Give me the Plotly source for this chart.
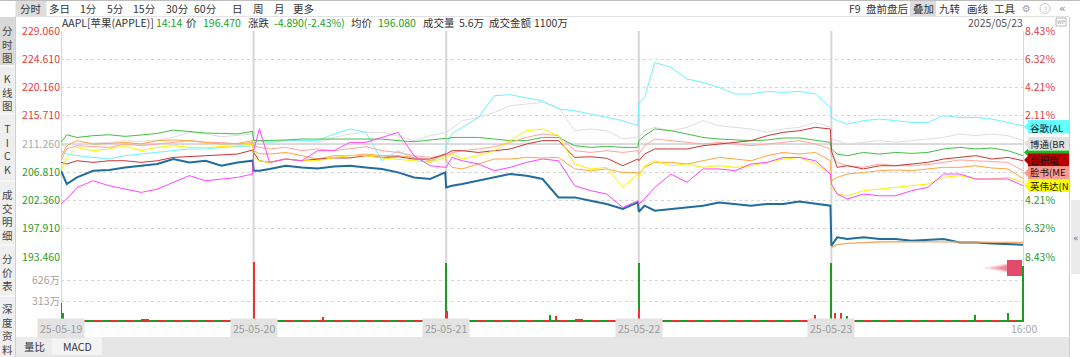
import plotly.graph_objects as go

FONT = "Noto Sans CJK SC"

# ---------------- data ----------------
day_labels = ["25-05-19", "25-05-20", "25-05-21", "25-05-22", "25-05-23"]
end_label = "16:00"
# sample positions inside each trading day (fraction of the day)
day_offsets = [0, 0.03, 0.083, 0.167, 0.25, 0.333, 0.417, 0.5, 0.583, 0.667, 0.75, 0.833, 0.917, 0.995]

prev_close = 211.26
price_ticks = [229.06, 224.61, 220.16, 215.71, 211.26, 206.81, 202.36, 197.91, 193.46]
volume_ticks = [313, 626]          # 万

# AAPL price (5 days x 14 samples)
aapl_price = [
    207.05, 204.96, 206.00, 207.05, 207.16, 207.57, 207.84, 208.11, 208.90, 208.36, 208.63, 207.84, 208.36, 208.63,
    207.05, 207.05, 207.32, 207.84, 207.57, 207.42, 207.73, 207.84, 207.57, 207.32, 206.79, 206.00, 205.75, 206.79,
    204.42, 204.69, 204.96, 205.48, 206.00, 206.53, 206.27, 205.75, 202.85, 202.85, 202.33, 201.81, 201.02, 202.06,
    200.59, 201.54, 200.75, 201.02, 201.27, 201.54, 202.06, 201.81, 201.54, 201.81, 201.81, 202.22, 201.81, 201.54,
    195.24, 196.55, 196.29, 196.55, 196.29, 196.29, 196.03, 196.14, 196.29, 195.76, 195.76, 195.60, 195.51, 195.40,
]
# AAPL average price, current day only
aapl_avg_today = [194.97, 195.40, 195.60, 195.76, 195.82, 195.87, 195.87, 195.87, 195.87, 195.87, 195.87, 195.82, 195.82, 195.76]

# overlaid comparison stocks, % change
pct_google = [
    -0.50, -0.75, -0.87, -1.00, -1.12, -0.87, -0.75, -0.63, -0.50, -0.37, -0.37, -0.25, -0.20, -0.13,
    0.02, 0.25, 0.12, 0.25, 0.25, 0.25, 0.75, 1.12, 0.87, -1.25, -0.50, -1.12, -1.37, -0.75,
    -0.13, 0.77, 1.24, 1.98, 3.60, 3.68, 3.43, 3.23, 2.61, 2.48, 2.24, 1.98, 1.74, 1.36,
    2.98, 3.47, 6.08, 5.71, 4.85, 4.59, 4.22, 3.73, 3.73, 3.92, 3.85, 3.92, 3.73, 2.73,
    1.98, 1.74, 1.49, 1.74, 1.86, 1.74, 1.61, 1.61, 2.11, 1.98, 1.98, 1.86, 1.61, 1.36,
]
pct_broadcom = [
    -0.13, -0.05, 0.00, 0.04, 0.12, 0.25, 0.19, 0.30, 0.49, 0.87, 0.75, 0.54, 0.62, 0.75,
    0.12, 0.02, 0.12, 0.25, 0.25, 0.12, 0.49, 0.75, 0.87, 0.87, 0.62, 0.25, 0.62, 0.87,
    0.87, 1.14, 1.74, 1.98, 2.36, 2.86, 2.98, 3.10, 2.73, 0.99, 1.12, 0.99, 0.40, 0.49,
    0.49, 0.99, 1.24, 0.99, 1.24, 1.74, 1.36, 1.24, 1.12, 0.87, 1.12, 1.24, 1.61, 1.24,
    0.37, 0.25, 0.00, 0.12, 0.25, 0.12, 0.25, 0.37, 0.49, 0.75, 0.62, 0.75, 0.62, 0.25,
]
pct_green = [
    0.12, 0.69, 0.49, 0.62, 0.69, 0.57, 0.67, 0.79, 1.04, 0.94, 0.82, 0.79, 0.75, 0.94,
    0.25, 0.25, 0.25, 0.30, 0.37, 0.37, 0.37, 0.37, 0.42, 0.37, 0.25, 0.17, 0.30, 0.42,
    0.37, 0.49, 0.49, 0.49, 0.37, 0.25, 0.25, 0.49, 0.49, -0.13, -0.25, -0.18, -0.25, -0.25,
    0.25, 0.62, 1.12, 0.99, 0.75, 0.49, 0.37, 0.30, 0.25, 0.30, 0.45, 0.45, 0.30, 0.12,
    -0.37, -0.75, -0.87, -0.63, -0.75, -0.63, -0.70, -0.63, -0.37, -0.25, -0.37, -0.30, -0.50, -0.87,
]
pct_tsmc = [
    -1.37, -1.49, -1.25, -1.37, -1.25, -1.25, -1.37, -1.25, -1.00, -0.95, -0.87, -0.82, -0.75, -0.45,
    -0.63, -1.25, -1.37, -1.12, -1.25, -1.12, -1.04, -1.04, -0.87, -1.00, -0.95, -1.12, -1.12, -0.75,
    -0.75, -0.50, -0.50, -0.63, -0.50, -0.37, 0.00, 0.25, 0.25, -1.00, -0.95, -1.06, -1.62, -1.12,
    -1.25, -0.75, -0.37, -0.37, -0.37, -0.13, 0.00, 0.12, 0.25, 0.62, 0.87, 0.99, 1.24, 1.12,
    -0.50, -1.74, -1.62, -1.86, -1.62, -1.62, -1.49, -1.37, -1.12, -1.00, -0.87, -1.12, -1.00, -1.25,
]
pct_meta = [
    -1.25, -0.35, -0.13, -0.20, -0.25, 0.00, -0.13, 0.00, 0.12, 0.25, 0.12, 0.12, 0.00, 0.12,
    -0.13, -0.25, -0.37, -0.25, -0.50, -0.37, -0.50, -0.37, -0.20, -0.50, -0.63, -0.87, -1.00, -0.87,
    -0.87, -0.65, -0.50, -0.37, -0.20, 0.12, 0.49, 0.75, 0.62, -0.50, -0.63, -0.50, -0.63, -0.50,
    -0.75, -0.13, 0.37, 0.25, 0.12, 0.00, 0.12, 0.00, -0.13, 0.00, 0.12, 0.25, 0.00, -0.37,
    -0.87, -1.37, -1.62, -1.74, -1.49, -1.62, -1.62, -1.54, -1.37, -1.19, -1.25, -1.30, -1.37, -1.99,
]
pct_orange = [
    -1.00, -0.13, 0.25, 0.00, 0.04, 0.12, 0.00, 0.25, 0.30, 0.25, 0.12, 0.00, 0.04, 0.25,
    -0.50, -0.72, -0.75, -0.63, -0.87, -1.12, -0.87, -0.87, -0.75, -0.87, -0.87, -1.00, -1.25, -0.75,
    -1.25, -1.74, -1.86, -1.49, -1.12, -1.12, -1.00, -1.04, -1.00, -1.86, -1.99, -1.86, -2.14, -2.12,
    -2.24, -1.74, -1.37, -1.37, -1.49, -1.25, -1.00, -1.12, -1.25, -0.87, -0.63, -0.75, -0.63, -1.25,
    -2.74, -2.49, -2.24, -2.12, -1.99, -1.94, -1.99, -1.86, -1.74, -1.74, -1.62, -1.79, -1.86, -2.59,
]
pct_nvidia = [
    -1.99, -1.00, -0.25, -0.50, -0.37, -0.13, -0.50, -0.25, -0.13, -0.25, -0.25, -0.20, -0.13, 0.00,
    -1.00, -1.25, -1.37, -1.12, -1.25, -1.25, -1.00, -0.87, -0.87, -1.04, -1.12, -1.25, -1.37, -1.00,
    -1.00, -0.75, -1.12, -0.87, -0.50, 0.25, 0.99, 1.12, 0.62, -1.49, -1.86, -1.74, -3.24, -2.24,
    -2.49, -1.62, -1.25, -1.62, -1.49, -1.74, -1.62, -1.74, -1.62, -1.37, -1.12, -1.00, -1.49, -2.24,
    -3.24, -3.73, -3.86, -3.48, -3.36, -3.24, -3.11, -2.98, -2.49, -2.36, -2.61, -2.61, -2.49, -2.86,
]
pct_magenta = [
    -4.47, -4.10, -3.24, -2.74, -3.11, -3.36, -3.61, -3.36, -2.86, -2.36, -2.74, -2.61, -2.49, -2.24,
    -0.50, 1.14, -1.37, -1.12, -1.25, -0.50, -0.50, 0.12, 0.12, 0.49, 0.87, -0.87, -1.62, -1.74,
    -1.74, -1.00, -1.25, -1.49, -1.99, -1.74, -1.37, -1.12, -1.25, -3.11, -3.48, -3.73, -4.73, -4.23,
    -4.47, -4.08, -3.24, -2.24, -2.86, -1.86, -1.86, -1.99, -1.49, -1.37, -1.00, -1.00, -1.25, -2.24,
    -2.98, -3.73, -4.10, -3.73, -3.86, -3.86, -3.48, -3.24, -2.24, -2.24, -2.61, -2.61, -2.61, -3.11,
]

# volume (万): thin background band, 12 buckets per day, red (down) and green (up)
vol_band_red = [
    30, 22, 35, 18, 28, 40, 25, 20, 33, 27, 24, 38,
    36, 26, 30, 22, 34, 25, 28, 31, 20, 27, 35, 29,
    32, 28, 24, 30, 36, 22, 26, 33, 40, 25, 30, 27,
    34, 24, 29, 31, 22, 28, 35, 26, 30, 24, 33, 28,
    38, 30, 26, 32, 24, 29, 27, 33, 25, 31, 28, 36,
]
vol_band_green = [
    26, 32, 20, 30, 24, 22, 34, 28, 21, 30, 33, 25,
    24, 30, 27, 33, 21, 29, 26, 22, 32, 28, 23, 31,
    27, 22, 33, 25, 21, 30, 34, 24, 22, 31, 26, 29,
    22, 31, 26, 24, 33, 27, 21, 30, 25, 32, 24, 29,
    30, 25, 33, 22, 31, 26, 30, 24, 32, 27, 34, 30,
]
# notable volume spikes
spike_x = [0.0, 0.012, 1.0, 1.36, 2.0, 2.006, 2.54, 2.57, 3.0, 3.004, 3.915, 4.0, 4.02, 4.05, 4.08, 4.745, 4.915, 4.997]
spike_v = [290, 130, 900, 80, 880, 160, 110, 90, 880, 190, 110, 880, 140, 130, 90, 110, 130, 840]
spike_up = [1, 1, 0, 0, 1, 0, 1, 0, 1, 0, 0, 1, 0, 0, 1, 1, 1, 1]

# ---------------- styling ----------------
RED = "#e23c3c"
GREEN = "#2a9a2a"
GRAY_TXT = "#a9a9a9"

W, H = 1080, 357
L, R, T, B = 61, 1024, 31, 322


def px(x):
    return (x - L) / (R - L)


def py(y):
    return (B - y) / (B - T)


x_all = [d + o for d in range(5) for o in day_offsets]
x_today = [4 + o for o in day_offsets]

fig = go.Figure()

comparisons = [
    ("博通", pct_broadcom, "#dedede"),
    ("谷歌", pct_google, "#6cf2ff"),
    ("green", pct_green, "#42c042"),
    ("脸书", pct_meta, "#ffa49c"),
    ("orange", pct_orange, "#ffa640"),
    ("台积电", pct_tsmc, "#cc3434"),
    ("英伟达", pct_nvidia, "#f4f400"),
    ("magenta", pct_magenta, "#ff45ff"),
]
for name, vals, col in comparisons:
    fig.add_trace(go.Scatter(x=x_all, y=vals, yaxis="y3", mode="lines",
                             line=dict(color=col, width=1), name=name, hoverinfo="skip"))

fig.add_trace(go.Scatter(x=x_all, y=aapl_price, yaxis="y", mode="lines",
                         line=dict(color="#216d9c", width=2), name="AAPL"))
fig.add_trace(go.Scatter(x=x_today, y=aapl_avg_today, yaxis="y", mode="lines",
                         line=dict(color="#f4aa66", width=1.3), name="均价"))

# volume
band_x_red = [d + (k + 0.25) / 12 for d in range(5) for k in range(12)]
band_x_green = [d + (k + 0.75) / 12 for d in range(5) for k in range(12)]
fig.add_trace(go.Bar(x=band_x_red, y=vol_band_red, yaxis="y2", width=1 / 24,
                     marker=dict(color="#f03030", line=dict(width=0)), hoverinfo="skip"))
fig.add_trace(go.Bar(x=band_x_green, y=vol_band_green, yaxis="y2", width=1 / 24,
                     marker=dict(color="#1f9a1f", line=dict(width=0)), hoverinfo="skip"))
fig.add_trace(go.Bar(x=spike_x, y=spike_v, yaxis="y2", width=0.006,
                     marker=dict(color=["#1f9a1f" if u else "#f03030" for u in spike_up],
                                 line=dict(width=0)), hoverinfo="skip"))

vol_top = 313 * (B - 257) / 21
pct_edge = (price_ticks[0] - prev_close) / prev_close * 100
pct_ticks = [(p - prev_close) / prev_close * 100 for p in price_ticks]


def col_for(v):
    return RED if v > prev_close + 1e-9 else (GREEN if v < prev_close - 1e-9 else GRAY_TXT)


price_text = [f'<span style="color:{col_for(p)}">{p:.3f}</span>' for p in price_ticks]
# right-hand % ticks; the 0% and first negative labels sit under the stock tags
pct_vals = [v for v in pct_ticks if not (-2.2 < v < 0.5)]
pct_text = [f'<span style="color:{RED if v > 0 else GREEN}">{abs(v):.2f}%</span>' for v in pct_vals]
vol_text = [f"{v}万" for v in volume_ticks]

dom_split = py(257)
fig.update_layout(
    width=W, height=H,
    margin=dict(l=L, r=W - R, t=T, b=H - B, pad=0),
    paper_bgcolor="white", plot_bgcolor="white",
    showlegend=False, barmode="overlay", bargap=0,
    font=dict(family=FONT, size=10, color="#333"),
    xaxis=dict(domain=[0, 1], range=[0, 5], showgrid=False, zeroline=False,
               showticklabels=False, showline=False, fixedrange=True),
    yaxis=dict(domain=[dom_split, 1], range=[price_ticks[-1], price_ticks[0]],
               tickvals=price_ticks, ticktext=price_text, showgrid=True,
               gridcolor="#d6d6d6", griddash="dot", gridwidth=1, zeroline=False,
               showline=False, ticks="", tickfont=dict(size=10.5, family=FONT)),
    yaxis2=dict(domain=[0, dom_split], range=[0, vol_top], tickvals=volume_ticks,
                ticktext=vol_text, showgrid=True, gridcolor="#d6d6d6", griddash="dot",
                zeroline=False, showline=False, ticks="",
                tickfont=dict(size=10.5, family=FONT, color="#a3a3a3")),
    yaxis3=dict(overlaying="y", side="right", range=[-pct_edge, pct_edge],
                tickvals=pct_vals, ticktext=pct_text, showgrid=False, zeroline=False,
                showline=False, ticks="", tickfont=dict(size=10.5, family=FONT)),
    yaxis4=dict(overlaying="y2", side="right", range=[0, vol_top], tickvals=volume_ticks,
                ticktext=vol_text, showgrid=False, zeroline=False, showline=False, ticks="",
                tickfont=dict(size=10.5, family=FONT, color="#a3a3a3")),
)

shapes = []
ann = []


def rect(x0, y0, x1, y1, fill, line=None, layer="above"):
    shapes.append(dict(type="rect", xref="paper", yref="paper", x0=px(x0), x1=px(x1),
                       y0=py(y1), y1=py(y0), fillcolor=fill,
                       line=dict(width=0) if line is None else dict(color=line, width=1),
                       layer=layer))


def hline(x0, x1, y, color, width=1, dash="solid"):
    shapes.append(dict(type="line", xref="paper", yref="paper", x0=px(x0), x1=px(x1),
                       y0=py(y), y1=py(y), line=dict(color=color, width=width, dash=dash),
                       layer="above"))


def vline(x, y0, y1, color, width=1):
    shapes.append(dict(type="line", xref="paper", yref="paper", x0=px(x), x1=px(x),
                       y0=py(y0), y1=py(y1), line=dict(color=color, width=width), layer="above"))


def text(x, y, s, size=10.5, color="#333", xanchor="left", family=FONT, bg=None, yanchor="middle"):
    a = dict(xref="paper", yref="paper", x=px(x), y=py(y), text=s, showarrow=False,
             xanchor=xanchor, yanchor=yanchor, font=dict(size=size, color=color, family=family),
             borderpad=0)
    if bg:
        a["bgcolor"] = bg
    ann.append(a)


# prev-close solid line and day separators
shapes.append(dict(type="line", xref="x", yref="y", x0=0, x1=5, y0=prev_close, y1=prev_close,
                   line=dict(color="#d2d2d2", width=1.5), layer="below"))
for d in range(6):
    shapes.append(dict(type="line", xref="x", yref="paper", x0=d, x1=d, y0=0, y1=1,
                       line=dict(color="#d6d6d6", width=2), layer="below"))

# ---- top tab bar ----
hline(0, W, 0.5, "#bdbdbd", 1)
rect(15.5, 1, 46.5, 16, "#dcdcdc")
rect(910, 1, 936, 16, "#dcdcdc")
hline(15, 1069, 16.5, "#e2e2e2", 1)
for s, c in [("分时", 31), ("多日", 59), ("1分", 88), ("5分", 115), ("15分", 144), ("30分", 177.5),
             ("60分", 205.5), ("日", 237), ("周", 258), ("月", 279), ("更多", 303)]:
    text(c, 8.5, s, 10.5, "#333", "center")
for s, c in [("F9", 855), ("盘前盘后", 886.5), ("叠加", 923), ("九转", 950), ("画线", 977.5), ("工具", 1004.5)]:
    text(c, 8.5, s, 10.5, "#333", "center")
text(1026, 8.5, "⚙", 10, "#a0a0a0", "center", "DejaVu Sans")
shapes.append(dict(type="circle", xref="paper", yref="paper", x0=px(1040), x1=px(1050),
                   y0=py(13.5), y1=py(3.5), line=dict(color="#c8c8c8", width=1), layer="above"))
text(1045, 8.5, "?", 7, "#c0c0c0", "center")
text(1062, 8.5, "«", 11, "#888", "center", "DejaVu Sans")

# ---- header line ----
hdr = [("AAPL[苹果(APPLE)]", "#333", 61), ("14:14", "#22a022", 155), ("价", "#333", 185),
       ("196.470", "#22a022", 202), ("涨跌", "#333", 247), ("-4.890(-2.43%)", "#22a022", 273),
       ("均价", "#333", 350), ("196.080", "#22a022", 377), ("成交量", "#333", 422),
       ("5.6万", "#333", 458), ("成交金额", "#333", 488), ("1100万", "#333", 533)]
for s, c, x in hdr:
    text(x, 22.5, s, 10.5, c, "left")
text(1024, 22.5, "2025/05/23", 10.5, "#555", "right")
rect(1056, 18, 1066, 26, "white", "#b8b8b8")
text(1061, 22, "WP", 5, "#999", "center", "DejaVu Sans")

# ---- left sidebar ----
rect(0, 17, 15, 357, "#efefef", layer="above")
rect(0, 17, 15, 65, "#d9d9d9")
vline(15.5, 17, 357, "#d0d0d0")
for y in [66, 114, 181, 245, 296]:
    hline(0, 15, y, "#ffffff", 1)
for word, ytop in [("分时图", 22), ("K线图", 70), ("TICK", 120), ("成交明细", 186), ("分价表", 250), ("深度资料", 300)]:
    text(7.5, ytop, "<br>".join(word), 10.5, "#444", "center", yanchor="top")

# ---- right strip ----
vline(1069.5, 17, 357, "#cfcfcf")
rect(1071, 200, 1080, 274, "#ebebeb")
text(1075.5, 238, "«", 9, "#777", "center", "DejaVu Sans")

# ---- end-of-line tags (box centre, text centre) ----
tags = [("谷歌(AL", 126.5, 128, "#66ffff", "#111"), ("博通(BR", 143.5, 143.5, "#e2e2e2", "#222"),
        (None, 152.5, 152.5, "#22b422", "#111"), ("台积电", 160, 159.5, "#b40000", "#111"),
        ("脸书(ME", 173, 172.3, "#ff9a90", "#111"), ("英伟达(N", 185.5, 186.3, "#ffff00", "#111")]
for s, yc, yt, bg, fc in tags:
    h = 6.5 if s else 2
    rect(1028, yc - h, 1069, yc + h, bg)
    shapes.append(dict(type="path", xref="paper", yref="paper",
                       path=f"M {px(1028)} {py(yc - 4)} L {px(1024)} {py(yc)} L {px(1028)} {py(yc + 4)} Z",
                       fillcolor=bg, line=dict(width=0), layer="above"))
    if s:
        text(1029, yt, s, 9.5, fc, "left")

# ---- pink bubble ----
for x0, hh, op in [(982, 5, 0.18), (990, 4, 0.3), (998, 3, 0.45)]:
    shapes.append(dict(type="path", xref="paper", yref="paper",
                       path=f"M {px(x0)} {py(268)} L {px(1008)} {py(268 - hh)} L {px(1008)} {py(268 + hh)} Z",
                       fillcolor="#e8506e", opacity=op, line=dict(width=0), layer="above"))
rect(1007, 260, 1022, 276, "#e24a6c")

# ---- date labels ----
for d, s in enumerate(day_labels):
    ann.append(dict(xref="x", yref="paper", x=d, y=py(328.5), text=s, showarrow=False,
                    xanchor="center", yanchor="middle", bgcolor="#e3e3e3", borderpad=2,
                    font=dict(size=10.5, color="#9c9c9c", family=FONT)))
ann.append(dict(xref="x", yref="paper", x=5, y=py(328.5), text=end_label, showarrow=False,
                xanchor="center", yanchor="middle", font=dict(size=10.5, color="#a8a8a8", family=FONT)))

# ---- bottom tab bar ----
rect(16, 337, 1069, 357, "#e6e6e6")
rect(16, 337, 52, 355, "#ececec")
rect(52, 337, 102, 355, "#f4f4f4")
text(34.5, 346.5, "量比", 10.5, "#333", "center")
text(77.5, 346.5, "MACD", 10.5, "#333", "center")

fig.update_layout(shapes=shapes, annotations=ann)
fig.write_html("out.html")
